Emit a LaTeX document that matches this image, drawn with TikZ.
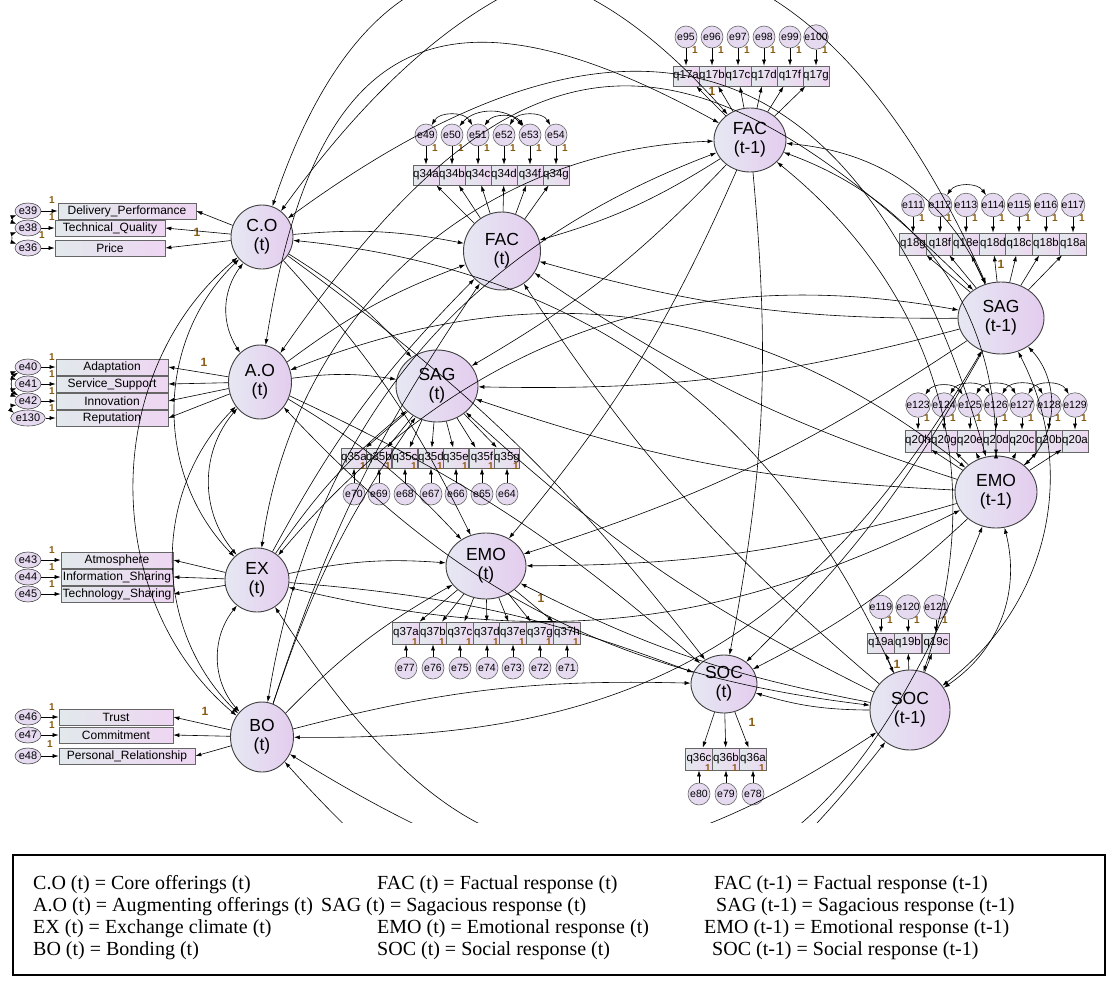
\documentclass[tikz,border=0pt]{standalone}
\usepackage{fontspec}
\setmainfont{Liberation Serif}
\newfontfamily\amosfont{Liberation Sans}
\usetikzlibrary{arrows.meta,shapes.geometric,calc}
\definecolor{latL}{HTML}{E6E8F3}
\definecolor{latR}{HTML}{E4CCEE}
\definecolor{boxL}{HTML}{E2E9EC}
\definecolor{boxR}{HTML}{EED6F2}
\definecolor{errfill}{HTML}{E6DAF0}
\definecolor{onecol}{HTML}{8A5A10}
\begin{document}
\begin{tikzpicture}[x=1pt,y=-1pt,
  latent/.style={ellipse,draw=black!75,line width=0.9pt,left color=latL,right color=latR,
    font=\amosfont\fontsize{17.5}{19}\selectfont,align=center,inner sep=0pt},
  ind/.style={rectangle,draw=black!60,line width=0.7pt,left color=boxL,right color=boxR,
    font=\amosfont\fontsize{11.5}{12}\selectfont,inner sep=0pt},
  lind/.style={ind,minimum height=16,font=\amosfont\fontsize{12}{12}\selectfont},
  err/.style={circle,draw=black!60,line width=0.6pt,fill=errfill,minimum size=22pt,inner sep=0pt,
    font=\amosfont\fontsize{10.5}{11}\selectfont},
  lerr/.style={ellipse,draw=black!70,line width=0.6pt,fill=errfill,minimum width=24pt,minimum height=16pt,
    inner sep=0pt,font=\amosfont\fontsize{11}{11}\selectfont},
  one/.style={font=\amosfont\bfseries\fontsize{10}{10}\selectfont,text=onecol,inner sep=0pt},
  arr/.style={-{Latex[length=6pt,width=4pt]},line width=0.6pt},
  cov/.style={{Latex[length=6pt,width=4pt]}-{Latex[length=6pt,width=4pt]},line width=0.6pt},
  legend/.style={anchor=base west,inner sep=0pt,font=\fontsize{20}{22}\selectfont}
]
\fill[white] (0,0) rectangle (1112,1002);
\useasboundingbox (0,0) rectangle (1112,1002);

% ---------- latent variables ----------
\node[latent,minimum width=62,minimum height=64] (CO)   at (262,237) {C.O\\(t)};
\node[latent,minimum width=63,minimum height=74] (AO)   at (260,382) {A.O\\(t)};
\node[latent,minimum width=64,minimum height=64] (EX)   at (257,580) {EX\\(t)};
\node[latent,minimum width=63,minimum height=70] (BO)   at (262,737) {BO\\(t)};
\node[latent,minimum width=77,minimum height=78] (FAC)  at (502,251) {FAC\\(t)};
\node[latent,minimum width=82,minimum height=72] (SAG)  at (437,386) {SAG\\(t)};
\node[latent,minimum width=80,minimum height=66] (EMO)  at (486,566) {EMO\\(t)};
\node[latent,minimum width=66,minimum height=58] (SOC)  at (724,684) {SOC\\(t)};
\node[latent,minimum width=72,minimum height=64] (FACp) at (750,140) {FAC\\(t-1)};
\node[latent,minimum width=86,minimum height=72] (SAGp) at (1001,318) {SAG\\(t-1)};
\node[latent,minimum width=82,minimum height=72] (EMOp) at (996,492) {EMO\\(t-1)};
\node[latent,minimum width=80,minimum height=80] (SOCp) at (910,710) {SOC\\(t-1)};

% ---------- left indicator blocks ----------
\node[lind,minimum width=138] (DP) at (127,211) {Delivery\_Performance};
\node[lind,minimum width=110] (TQ) at (110,228) {Technical\_Quality};
\node[lind,minimum width=110] (PR) at (110,248) {Price};
\node[lerr] (e39) at (28,211) {e39};
\node[lerr] (e38) at (28,228) {e38};
\node[lerr] (e36) at (28,248) {e36};

\node[lind,minimum width=112] (AD) at (112,367) {Adaptation};
\node[lind,minimum width=112] (SS) at (112,384) {Service\_Support};
\node[lind,minimum width=112] (IN) at (112,401) {Innovation};
\node[lind,minimum width=112] (RE) at (112,418) {Reputation};
\node[lerr] (e40) at (28,367) {e40};
\node[lerr] (e41) at (28,384) {e41};
\node[lerr] (e42) at (28,401) {e42};
\node[lerr] (e130) at (28,418) {e130};

\node[lind,minimum width=112] (AT) at (117,560) {Atmosphere};
\node[lind,minimum width=112] (IS) at (117,577) {Information\_Sharing};
\node[lind,minimum width=112] (TS) at (117,594) {Technology\_Sharing};
\node[lerr] (e43) at (28,560) {e43};
\node[lerr] (e44) at (28,577) {e44};
\node[lerr] (e45) at (28,594) {e45};

\node[lind,minimum width=114] (TR) at (116,717) {Trust};
\node[lind,minimum width=114] (CM) at (116,735) {Commitment};
\node[lind,minimum width=136] (PRL) at (127,756) {Personal\_Relationship};
\node[lerr] (e46) at (28,717) {e46};
\node[lerr] (e47) at (28,735) {e47};
\node[lerr] (e48) at (28,756) {e48};

\foreach \px/\py in {52/200,52/217,42/235,52/357,52/374,52/391,52/408,52/550,52/567,52/584,52/707,52/725,50/744}
  \node[one] at (\px,\py) {1};

% ---------- indicator blocks with errors above ----------
\foreach \q/\e/\px in {q17a/e95/686,q17b/e96/712,q17c/e97/738,q17d/e98/764,q17f/e99/790,q17g/e100/816}{
  \node[ind,minimum width=26,minimum height=20] (\q) at (\px,76) {\q};
  \node[err] (\e) at (\px,37) {\e};
  \node[one] at (\px+9,50) {1};
}
\foreach \q/\e/\px in {q34a/e49/426,q34b/e50/452,q34c/e51/478,q34d/e52/504,q34f/e53/530,q34g/e54/556}{
  \node[ind,minimum width=26,minimum height=20] (\q) at (\px,175) {\q};
  \node[err] (\e) at (\px,135) {\e};
  \node[one] at (\px+9,148) {1};
}
\foreach \q/\e/\px in {q18g/e111/913,q18f/e112/940,q18e/e113/966,q18d/e114/993,q18c/e115/1019,q18b/e116/1046,q18a/e117/1073}{
  \node[ind,minimum width=26.6,minimum height=22] (\q) at (\px,244) {\q};
  \node[err] (\e) at (\px,205) {\e};
  \node[one] at (\px+9,218) {1};
}
\foreach \q/\e/\px in {q20h/e123/918,q20g/e124/944,q20e/e125/970,q20d/e126/996,q20c/e127/1022,q20b/e128/1049,q20a/e129/1075}{
  \node[ind,minimum width=26.1,minimum height=22] (\q) at (\px,441) {\q};
  \node[err] (\e) at (\px,405) {\e};
  \node[one] at (\px+9,418) {1};
}
\foreach \q/\e/\px in {q19a/e119/881,q19b/e120/908,q19c/e121/936}{
  \node[ind,minimum width=27.5,minimum height=20] (\q) at (\px,643) {\q};
  \node[err] (\e) at (\px,607) {\e};
  \node[one] at (\px+9,620) {1};
}

% ---------- indicator blocks with errors below ----------
\foreach \q/\e/\px in {q35a/e70/354,q35b/e69/379,q35c/e68/405,q35d/e67/431,q35e/e66/456,q35f/e65/482,q35g/e64/507}{
  \node[ind,minimum width=25.6,minimum height=20] (\q) at (\px,458) {\q};
  \node[err] (\e) at (\px,494) {\e};
  \node[one] at (\px+9,466) {1};
}
\foreach \q/\e/\px in {q37a/e77/406,q37b/e76/433,q37c/e75/460,q37d/e74/487,q37e/e73/513,q37g/e72/540,q37h/e71/567}{
  \node[ind,minimum width=26.7,minimum height=22] (\q) at (\px,633) {\q};
  \node[err] (\e) at (\px,668) {\e};
  \node[one] at (\px+9,642) {1};
}
\foreach \q/\e/\px in {q36c/e80/699,q36b/e79/726,q36a/e78/753}{
  \node[ind,minimum width=27.3,minimum height=22] (\q) at (\px,759) {\q};
  \node[err] (\e) at (\px,794) {\e};
  \node[one] at (\px+9,768) {1};
}

% fixed loadings
\foreach \px/\py in {197/232,204/362,205/711,712/91,1001/264,541/598,752/722,897/664}
  \node[one,font=\amosfont\bfseries\fontsize{12}{12}\selectfont] at (\px,\py) {1};

% ---------- paths ----------
\begin{scope}
\clip (0,0) rectangle (1112,822);

% measurement paths, left blocks
\foreach \b/\e in {DP/e39,TQ/e38,PR/e36}{\draw[arr] (CO) -- (\b.east); \draw[arr] (\e) -- (\b);}
\foreach \b/\e in {AD/e40,SS/e41,IN/e42,RE/e130}{\draw[arr] (AO) -- (\b.east); \draw[arr] (\e) -- (\b);}
\foreach \b/\e in {AT/e43,IS/e44,TS/e45}{\draw[arr] (EX) -- (\b.east); \draw[arr] (\e) -- (\b);}
\foreach \b/\e in {TR/e46,CM/e47,PRL/e48}{\draw[arr] (BO) -- (\b.east); \draw[arr] (\e) -- (\b);}

% measurement paths, right and middle blocks
\foreach \q/\e in {q17a/e95,q17b/e96,q17c/e97,q17d/e98,q17f/e99,q17g/e100}{\draw[arr] (FACp) -- (\q); \draw[arr] (\e) -- (\q);}
\foreach \q/\e in {q34a/e49,q34b/e50,q34c/e51,q34d/e52,q34f/e53,q34g/e54}{\draw[arr] (FAC) -- (\q); \draw[arr] (\e) -- (\q);}
\foreach \q/\e in {q18g/e111,q18f/e112,q18e/e113,q18d/e114,q18c/e115,q18b/e116,q18a/e117}{\draw[arr] (SAGp) -- (\q); \draw[arr] (\e) -- (\q);}
\foreach \q/\e in {q20h/e123,q20g/e124,q20e/e125,q20d/e126,q20c/e127,q20b/e128,q20a/e129}{\draw[arr] (EMOp) -- (\q); \draw[arr] (\e) -- (\q);}
\foreach \q/\e in {q19a/e119,q19b/e120,q19c/e121}{\draw[arr] (SOCp) -- (\q); \draw[arr] (\e) -- (\q);}
\foreach \q/\e in {q35a/e70,q35b/e69,q35c/e68,q35d/e67,q35e/e66,q35f/e65,q35g/e64}{\draw[arr] (SAG) -- (\q); \draw[arr] (\e) -- (\q);}
\foreach \q/\e in {q37a/e77,q37b/e76,q37c/e75,q37d/e74,q37e/e73,q37g/e72,q37h/e71}{\draw[arr] (EMO) -- (\q); \draw[arr] (\e) -- (\q);}
\foreach \q/\e in {q36c/e80,q36b/e79,q36a/e78}{\draw[arr] (SOC) -- (\q); \draw[arr] (\e) -- (\q);}

% error covariances
\foreach \a/\b/\ang in {e39/e38/-70,e38/e36/-70,e40/e41/-70,e41/e42/-70,e40/e42/-60,e42/e130/-70,
    e49/e51/60,e50/e53/50,e52/e54/60,e51/e53/55,
    e124/e126/60,e125/e127/60,e126/e128/60,e127/e129/60,e123/e125/55,e112/e114/55}
  \draw[cov] (\a) to[bend left=\ang] (\b);

% covariances among exogenous constructs
\foreach \a/\b/\ang/\lo in {
    CO/AO/-35/1,CO/EX/-45/1,CO/BO/-50/1,AO/EX/-40/1,AO/BO/-45/1,EX/BO/-40/1,
    FACp/SAGp/30/1,FACp/EMOp/35/1,FACp/SOCp/35/1,SAGp/EMOp/45/1,SAGp/SOCp/40/1,EMOp/SOCp/35/1,
    CO/FACp/60/1.6,CO/SAGp/60/1.6,CO/EMOp/55/1.5,CO/SOCp/30/1,
    AO/FACp/55/1.6,AO/SAGp/50/1.5,AO/EMOp/30/1,AO/SOCp/-20/1,
    EX/FACp/40/1,EX/SAGp/30/1,EX/EMOp/-20/1,EX/SOCp/-45/1.4,
    BO/FACp/30/1,BO/SAGp/-30/1.1,BO/EMOp/-50/1.5,BO/SOCp/-50/1.5}
  \draw[cov] (\a) to[bend left=\ang,looseness=\lo] (\b);

% structural paths
\foreach \a in {CO,AO,EX,BO,FACp,SAGp,EMOp,SOCp}
  \foreach \b in {FAC,SAG,EMO,SOC}
    \draw[arr] (\a) to[bend left=8] (\b);
\end{scope}

% ---------- key ----------
\draw[line width=1.5pt] (13,855) rectangle (1105,975);
\node[legend] at (33,889) {C.O (t) = Core offerings (t)};
\node[legend] at (33,911) {A.O (t) = Augmenting offerings (t)};
\node[legend] at (33,933) {EX (t) = Exchange climate (t)};
\node[legend] at (33,955) {BO (t) = Bonding (t)};
\node[legend] at (377,889) {FAC (t) = Factual response (t)};
\node[legend] at (321,911) {SAG (t) = Sagacious response (t)};
\node[legend] at (377,933) {EMO (t) = Emotional response (t)};
\node[legend] at (377,955) {SOC (t) = Social response (t)};
\node[legend] at (714,889) {FAC (t-1) = Factual response (t-1)};
\node[legend] at (716,911) {SAG (t-1) = Sagacious response (t-1)};
\node[legend] at (704,933) {EMO (t-1) = Emotional response (t-1)};
\node[legend] at (712,955) {SOC (t-1) = Social response (t-1)};
\end{tikzpicture}
\end{document}
